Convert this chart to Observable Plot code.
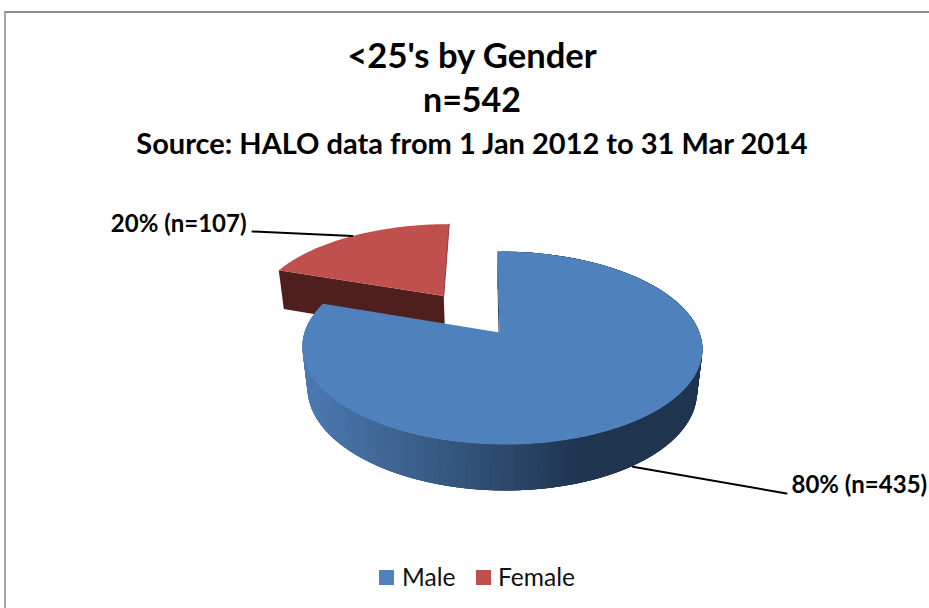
<!DOCTYPE html>
<html><head><meta charset="utf-8">
<script src="https://cdn.jsdelivr.net/npm/d3@7"></script>
<script src="https://cdn.jsdelivr.net/npm/@observablehq/plot@0.6"></script>
<style>
html,body{margin:0;padding:0;background:#fff;overflow:hidden;width:929px;height:608px}
body{position:relative;font-family:Lato,"Open Sans",sans-serif;color:#000}
#frame{position:absolute;left:4px;top:11px;right:0;bottom:0;border-left:2px solid #a6a6a6;border-top:2px solid #8c8c8c}
#head{position:absolute;left:0;top:0;width:944px;height:170px;text-align:center;font-weight:700}
#head div{position:absolute;left:0;right:0;white-space:nowrap}
#chart{position:absolute;left:0;top:170px}
#chart svg{display:block;background:transparent}
#legend{position:absolute;top:555px;left:0;height:45px;width:929px;font-size:24.6px;color:#111}
#legend span{position:absolute;top:6px;line-height:32px}
#legend i{position:absolute;top:15px;width:15px;height:15px}
</style></head><body>
<div id="frame"></div>
<div id="head">
<div id="t1" style="top:34px;font-size:34.6px;line-height:42px"></div>
<div id="t2" style="top:78px;font-size:34px;line-height:42px"></div>
<div id="t3" style="top:126px;font-size:29px;line-height:34px"></div>
</div>
<div id="chart"></div>
<div id="legend"></div>
<script>
const titleLines = ["<25's by Gender", "n=542", "Source: HALO data from 1 Jan 2012 to 31 Mar 2014"];
const genders = ["Male", "Female"];
const counts = [435, 107];
const sliceLabels = ["80% (n=435)", "20% (n=107)"];
const topColors = ["#4f81bd", "#c0504d"];
const wallColors = ["#1f3550", "#4f1f1d"];

document.getElementById("t1").textContent = titleLines[0];
document.getElementById("t2").textContent = titleLines[1];
document.getElementById("t3").textContent = titleLines[2];

// Perspective view of the flat pie: (u,v) on the disc, z = 0 top face, z = 1 bottom face
const project = (u, v, z, tilt) => {
  const w = 1 + 0.1606 * v - tilt * u + 0.026 * z;
  return {x: 499 + (197.4 * u - 2.3 * v) / w, y: 332 + (-94 * v + 42.7 * z) / w};
};
const total = d3.sum(counts);
const explode = 0.51;
const TAU = Math.PI * 2;
const slices = [];
let acc = 0;
genders.forEach((g, i) => {
  const a0 = acc / total * TAU; acc += counts[i];
  const a1 = acc / total * TAU;
  const mid = (a0 + a1) / 2;
  const e = g === "Female" ? explode : 0;
  slices.push({g, i, a0, a1, mid, tilt: g === "Female" ? 0 : 0.0125, du: e * Math.sin(mid), dv: e * Math.cos(mid)});
});
const disc = (s, a, r, z) => project(s.du + r * Math.sin(a), s.dv + r * Math.cos(a), z, s.tilt);
const arcAngles = (s, n) => d3.range(n + 1).map(k => s.a0 + (s.a1 - s.a0) * k / n);

const polys = [];
const pushPoly = (id, color, pts) => pts.forEach(p => polys.push({id, color, x: p.x, y: p.y}));
const male = slices[0], female = slices[1];

// Female: front wall then top
pushPoly("fw1", wallColors[1], [disc(female,female.a0,1,0), disc(female,0,0,0), disc(female,0,0,1), disc(female,female.a0,1,1)]);
pushPoly("ftop", topColors[1], [disc(female,0,0,0), ...arcAngles(female,60).map(a => disc(female,a,1,0))]);
// Thin shaded edge where the slice's far wall just shows
const femaleEdge = [disc(female,female.a1,1,0), disc(female,0,0,0)].map(p => ({x: p.x, y: p.y}));
// Male: start wall, shaded rim (each band overlaps the next so no seams show), top
pushPoly("mw", wallColors[0], [disc(male,male.a0,1,0), disc(male,0,0,0), disc(male,0,0,1), disc(male,male.a0,1,1)]);
const shade = d3.scaleLinear().domain([305, 420, 577]).range(["#4c7ab2", "#3a5f8a", wallColors[0]]).clamp(true);
const rimN = 240, rimA = arcAngles(male, rimN);
d3.range(rimN).forEach(k => {
  const a = rimA[k], b = rimA[Math.min(k + 4, rimN)];
  const c = disc(male, (rimA[k] + rimA[k + 1]) / 2, 1, 1);
  pushPoly("r" + k, shade(c.x), [disc(male,a,1,0), disc(male,b,1,0), disc(male,b,1,1), disc(male,a,1,1)]);
});
const maleTop = [disc(male,0,0,0), ...arcAngles(male,160).map(a => disc(male,a,1,0))]
  .map(p => ({id: "mtop", color: topColors[0], x: p.x, y: p.y}));

// Leader lines, ending at each slice's mid-angle
const maleAnchor = disc(male, male.mid, 1, 1);
const femaleAnchor = disc(female, female.mid, 1, 0);
const leaders = [
  {id:"m", x: maleAnchor.x + 2, y: maleAnchor.y}, {id:"m", x: 786, y: 493},
  {id:"f", x: femaleAnchor.x, y: femaleAnchor.y}, {id:"f", x: 252, y: 231}
];
const labels = [
  {text: sliceLabels[0], x: 791, y: 485, anchor: "start"},
  {text: sliceLabels[1], x: 246, y: 224, anchor: "end"}
];
const textOpts = {x: "x", y: "y", text: "text", fontFamily: "Lato", fontWeight: 700, fontSize: 24, fill: "#000"};

const plot = Plot.plot({
  width: 929, height: 385,
  margin: 0,
  x: {domain: [0, 929], range: [0, 929], axis: null},
  y: {domain: [170, 555], range: [0, 385], axis: null},
  color: {type: "identity"},
  marks: [
    Plot.line(polys, {x: "x", y: "y", z: "id", fill: "color", stroke: "none"}),
    Plot.line(femaleEdge, {x: "x", y: "y", stroke: "#8f3b39", strokeWidth: 1}),
    Plot.line(maleTop, {x: "x", y: "y", z: "id", fill: "color", stroke: "none"}),
    Plot.line(leaders, {x: "x", y: "y", z: "id", stroke: "#000", strokeWidth: 2}),
    Plot.text(labels.filter(d => d.anchor === "start"), {...textOpts, textAnchor: "start"}),
    Plot.text(labels.filter(d => d.anchor === "end"), {...textOpts, textAnchor: "end"})
  ]
});
document.getElementById("chart").appendChild(plot);

const legend = document.getElementById("legend");
const legendX = [[379, 402], [476, 498]];
genders.forEach((g, i) => {
  const sw = document.createElement("i");
  sw.style.left = legendX[i][0] + "px"; sw.style.background = topColors[i];
  const t = document.createElement("span");
  t.style.left = legendX[i][1] + "px"; t.textContent = g;
  legend.append(sw, t);
});
</script>
</body></html>
